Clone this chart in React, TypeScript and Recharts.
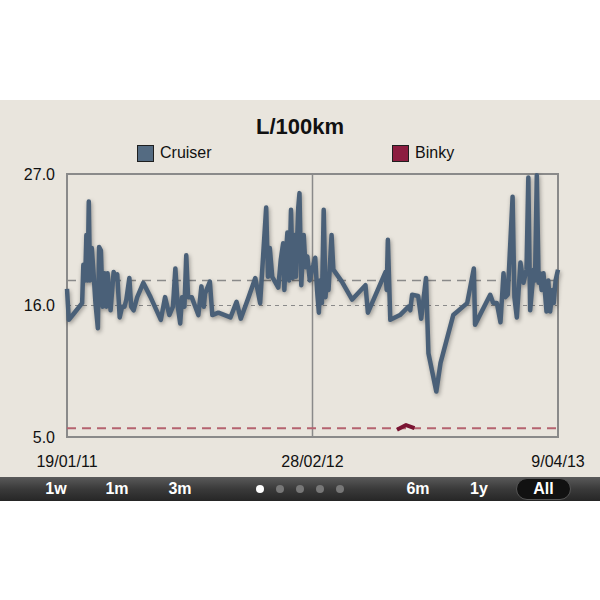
import React from 'react';
import { LineChart, Line, XAxis, YAxis, ReferenceLine, ReferenceArea } from 'recharts';

// days since 19/01/11
const cruiserDays = [
  0, 3, 14, 25, 27, 30, 32, 34, 36, 38,
  41, 44, 47, 51, 53, 56, 59, 62, 65, 67,
  72, 77, 80, 83, 87, 91, 95, 98, 103, 106,
  110, 116, 126, 138, 155, 162, 169, 175, 179, 183,
  187, 190, 194, 197, 200, 206, 217, 222, 226, 228,
  236, 240, 250, 270, 280, 287, 300, 311, 319, 329,
  332, 335, 339, 349, 353, 357, 359, 362, 364, 367,
  370, 373, 376, 378, 382, 384, 387, 391, 394, 397,
  401, 405, 407, 410, 413, 416, 418, 421, 424, 427,
  429, 432, 437, 440, 454, 471, 493, 497, 526, 528,
  530, 534, 550, 564, 567, 570, 580, 585, 593, 597,
  610, 617, 638, 661, 672, 674, 699, 704, 710, 716,
  721, 724, 728, 736, 739, 743, 749, 754, 759, 762,
  765, 771, 773, 776, 779, 781, 784, 787, 792, 795,
  798, 802, 804, 807, 811,
];

const cruiserValues = [
  17.4, 14.8, 15.5, 16.2, 19.4, 18.1, 21.9, 18.1, 24.7, 18.1,
  20.8, 18.6, 16.2, 14.1, 20.9, 20.6, 15.9, 18.7, 15.9, 18.7,
  15.6, 18.8, 18.5, 18.6, 15.0, 15.9, 15.9, 16.5, 18.3, 15.9,
  15.6, 16.7, 17.9, 16.7, 14.8, 16.7, 15.2, 15.9, 19.1, 15.9,
  14.5, 16.7, 15.9, 20.2, 16.7, 16.7, 15.2, 17.6, 15.9, 17.0,
  18.0, 15.2, 15.4, 15.0, 16.3, 14.9, 16.7, 18.3, 16.2, 24.2,
  18.4, 20.8, 18.4, 17.5, 19.8, 21.2, 17.3, 20.6, 22.1, 18.1,
  24.0, 18.3, 21.9, 18.4, 24.2, 25.4, 17.7, 21.9, 19.2, 20.1,
  18.1, 19.1, 19.4, 20.0, 17.3, 15.4, 18.1, 16.2, 24.0, 16.7,
  18.1, 17.3, 21.9, 19.0, 18.0, 16.5, 17.7, 15.4, 18.8, 17.3,
  21.5, 14.8, 15.2, 15.9, 15.6, 16.9, 16.8, 14.9, 18.3, 12.0,
  8.8, 11.2, 15.2, 16.2, 19.1, 14.4, 16.9, 16.2, 16.2, 14.6,
  18.7, 16.7, 16.9, 25.1, 16.7, 15.0, 19.6, 17.9, 19.0, 26.7,
  15.6, 19.0, 18.1, 26.9, 17.9, 18.7, 17.3, 18.7, 15.5, 18.1,
  15.5, 17.3, 16.2, 18.1, 19.0,
];

const binkyDays = [545, 560, 574];
const binkyValues = [5.6, 6.0, 5.75];

const cruiserAverage = 18.1;
const cruiserMedian = 16.0;
const binkyAverage = 5.73;

const xTicks = [0, 405.5, 811];
const xTickLabels = ['19/01/11', '28/02/12', '9/04/13'];
const yTicks = [5, 16, 27];

const leftButtons = ['1w', '1m', '3m'];
const rightButtons = ['6m', '1y'];
const pageDots = [true, false, false, false, false];

const cruiserData = cruiserDays.map((day, i) => ({ day, value: cruiserValues[i] }));
const binkyData = binkyDays.map((day, i) => ({ day, value: binkyValues[i] }));

const FONT = '"Liberation Sans", Arial, Helvetica, sans-serif';
const CRUISER = '#4a6078';
const BINKY = '#7a1432';

function LegendItem({ label, color, left }: { label: string; color: string; left: number }) {
  return (
    <div style={{ position: 'absolute', left, top: 44, display: 'flex', alignItems: 'center' }}>
      <div style={{ width: 15, height: 15, background: color, border: '1.5px solid #1f1f1f' }} />
      <span style={{ marginLeft: 6, fontSize: 16, color: '#111' }}>{label}</span>
    </div>
  );
}

export default function App() {
  return (
    <div style={{ position: 'absolute', left: 0, top: 0, width: 600, height: 600, background: '#fff', fontFamily: FONT }}>
      <style>{`.cruiser .recharts-line-curve { filter: drop-shadow(1px 2px 2px rgba(0,0,0,0.35)); }`}</style>
      <div style={{ position: 'absolute', left: 0, top: 100, width: 600, height: 377, background: '#e9e5dd' }}>
        <div style={{ position: 'absolute', left: 0, width: 600, top: 14, textAlign: 'center', fontSize: 22, fontWeight: 700, color: '#111' }}>
          L/100km
        </div>
        <LegendItem label="Cruiser" color="#546b82" left={137} />
        <LegendItem label="Binky" color="#8c1d40" left={392} />
        <div style={{ position: 'absolute', left: 0, top: 0 }}>
          <LineChart width={600} height={376} margin={{ top: 74, right: 42, bottom: 9, left: 7 }}>
            <XAxis
              dataKey="day"
              type="number"
              domain={[0, 811]}
              ticks={xTicks}
              interval={0}
              tickFormatter={(v) => xTickLabels[xTicks.indexOf(v)]}
              axisLine={false}
              tickLine={false}
              tickSize={0}
              tickMargin={19}
              height={30}
              tick={{ fill: '#111', fontSize: 16, fontFamily: FONT }}
            />
            <YAxis
              type="number"
              domain={[5, 27]}
              ticks={yTicks}
              interval={0}
              tickFormatter={(v) => v.toFixed(1)}
              axisLine={false}
              tickLine={false}
              tickSize={0}
              tickMargin={12}
              width={60}
              tick={{ fill: '#111', fontSize: 16, fontFamily: FONT }}
            />
            <ReferenceArea x1={0} x2={811} y1={5} y2={27} fill="none" stroke="#8a8a8a" strokeWidth={2} />
            <ReferenceLine x={405.5} stroke="#8a8a8a" strokeWidth={1.5} />
            <ReferenceLine y={cruiserAverage} stroke="#8a8a8a" strokeWidth={1.5} strokeDasharray="9 6" />
            <ReferenceLine y={cruiserMedian} stroke="#8a8a8a" strokeWidth={1.2} strokeDasharray="4 4" />
            <ReferenceLine y={binkyAverage} stroke="#b5636f" strokeWidth={2} strokeDasharray="9 6" />
            <Line
              className="cruiser"
              data={cruiserData}
              dataKey="value"
              type="linear"
              stroke={CRUISER}
              strokeWidth={4.5}
              strokeLinejoin="round"
              dot={false}
              isAnimationActive={false}
            />
            <Line
              data={binkyData}
              dataKey="value"
              type="linear"
              stroke={BINKY}
              strokeWidth={4}
              strokeLinejoin="round"
              dot={false}
              isAnimationActive={false}
            />
          </LineChart>
        </div>
      </div>
      <div
        style={{
          position: 'absolute', left: 0, top: 477, width: 600, height: 24,
          background: 'linear-gradient(#5a5a5a, #3a3a3a 50%, #262626)',
          color: '#fff', fontWeight: 700, fontSize: 16,
        }}
      >
        {leftButtons.map((b, i) => (
          <span key={b} style={{ position: 'absolute', top: 3, left: [56, 117, 180][i], transform: 'translateX(-50%)' }}>{b}</span>
        ))}
        {pageDots.map((on, i) => (
          <span
            key={i}
            style={{
              position: 'absolute', top: 8, left: 256 + i * 20, width: 8, height: 8, borderRadius: 4,
              background: on ? '#fff' : '#777',
            }}
          />
        ))}
        {rightButtons.map((b, i) => (
          <span key={b} style={{ position: 'absolute', top: 3, left: [418, 479][i], transform: 'translateX(-50%)' }}>{b}</span>
        ))}
        <div
          style={{
            position: 'absolute', left: 516, top: 1, width: 55, height: 22, borderRadius: 11,
            background: '#111', border: '1px solid #555', boxSizing: 'border-box',
            textAlign: 'center', lineHeight: '20px',
          }}
        >
          All
        </div>
      </div>
    </div>
  );
}
